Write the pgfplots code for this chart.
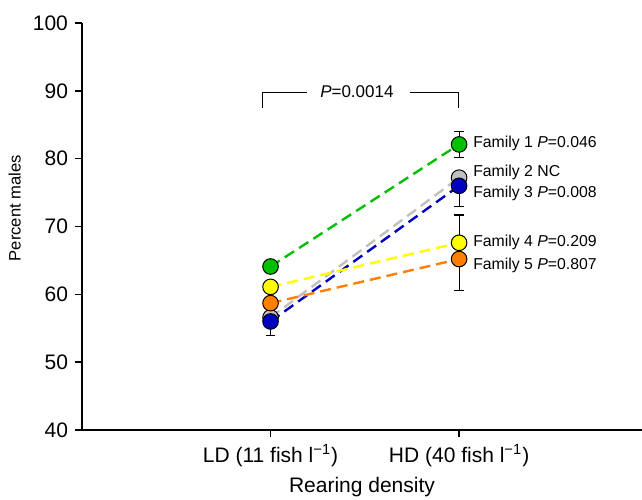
\documentclass[border=0pt]{standalone}
\usepackage{fontspec}
\setmainfont{Liberation Sans}
\usepackage{pgfplots}
\pgfplotsset{compat=1.18}

\definecolor{famgreen}{HTML}{00C000}
\definecolor{famgray}{HTML}{C0C0C0}
\definecolor{famblue}{HTML}{0000C0}
\definecolor{famyellow}{HTML}{FFFF00}
\definecolor{famorange}{HTML}{FF8000}

\pgfplotsset{
  family/.style={line width=1.2pt, dash pattern=on 5.5pt off 3pt, mark=*, mark size=3.9pt,
    mark options={solid, fill=#1, draw=black, line width=0.5pt}, color=#1},
  ebar/.style={only marks, mark=none,
    error bars/.cd, y explicit, y dir=#1,
    error bar style={black, line width=0.6pt},
    error mark options={rotate=90, mark size=2.4pt, line width=0.6pt, black}},
}

\begin{document}
\begin{tikzpicture}
\begin{axis}[
    name=ax,
    scale only axis,
    width=280pt, height=203.5pt,
    xmin=0, xmax=2.97, ymin=40, ymax=100,
    axis x line*=bottom, axis y line*=left,
    axis line style={line width=1pt, -},
    xtick={1,2},
    xticklabels={LD (11 fish l\textsuperscript{−1}), HD (40 fish l\textsuperscript{−1})},
    ytick={40,50,...,100},
    tick align=outside, major tick length=3.5pt,
    tick style={line width=0.8pt, black},
    ticklabel style={font=\fontsize{10.5}{12}\selectfont},
    /pgf/number format/assume math mode=true,
    xlabel={Rearing density}, ylabel={Percent males},
    every axis x label/.style={at={(axis description cs:0.5,-0.14)}, anchor=center,
      font=\fontsize{10.5}{12}\selectfont},
    every axis y label/.style={at={(axis description cs:-0.12,0.545)}, rotate=90, anchor=center,
      font=\fontsize{8.3}{10}\selectfont},
    clip=false,
]
% error bars (drawn first, behind the circles)
\addplot[ebar=both] coordinates {(2,82.1) +- (0,1.9)};
\addplot[ebar=both] coordinates {(2,65.2) += (0,6.5) -= (0,4.6)};
\addplot[ebar=minus] coordinates {(2,76.0) -= (0,3.1) (1,56.0) -= (0,2.1)};

% families
\addplot[family=famgreen]  coordinates {(1,64.1) (2,82.1)};
\addplot[family=famgray]   coordinates {(1,56.6) (2,77.2)};
\addplot[family=famblue]   coordinates {(1,56.0) (2,76.0)};
\addplot[family=famyellow] coordinates {(1,61.1) (2,67.6)};
\addplot[family=famorange] coordinates {(1,58.7) (2,65.2)};

% labels
\begin{scope}[every node/.style={anchor=west, font=\fontsize{7.9}{9}\selectfont, inner sep=0pt}]
\node at (axis cs:2.073,82.2) {Family 1 \textit{P}=0.046};
\node at (axis cs:2.073,77.9) {Family 2 NC};
\node at (axis cs:2.073,74.9) {Family 3 \textit{P}=0.008};
\node at (axis cs:2.073,67.6) {Family 4 \textit{P}=0.209};
\node at (axis cs:2.073,64.3) {Family 5 \textit{P}=0.807};
\end{scope}

% significance bracket
\draw[line width=0.5pt] (axis cs:0.955,87.5) |- (axis cs:1.191,89.7);
\draw[line width=0.5pt] (axis cs:1.739,89.7) -| (axis cs:1.995,87.5);
\node[font=\fontsize{8.5}{10}\selectfont] at (axis cs:1.458,89.9) {\textit{P}=0.0014};
\end{axis}
\pgfresetboundingbox
\path ([xshift=-41pt,yshift=-35pt]ax.south west) rectangle ([yshift=11.5pt]ax.north east);
\end{tikzpicture}
\end{document}
